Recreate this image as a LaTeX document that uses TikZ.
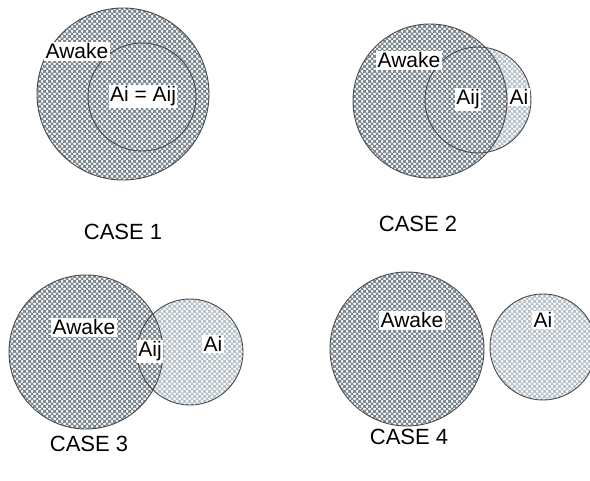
\documentclass[tikz,border=0pt]{standalone}
\usepackage{fontspec}
\setmainfont{Liberation Sans}
\usetikzlibrary{patterns.meta}

% diagonal cross-hatch used for the set fills (axis-aligned 5pt tile)
\tikzdeclarepattern{
  name=xhatch,
  type=uncolored,
  bounding box={(0,0) and (5pt,5pt)},
  tile size={(5pt,5pt)},
  code={
    \foreach \k in {-5,0,5}{
      \draw[line width=1.0pt] (-1pt,-1pt+\k pt) -- (6pt,6pt+\k pt);
      \draw[line width=1.0pt] (-1pt,6pt+\k pt) -- (6pt,-1pt+\k pt);
    }
  }
}

\definecolor{hatchdark}{HTML}{76838B}
\definecolor{hatchlight}{HTML}{B4C0C7}
\definecolor{rim}{HTML}{4A4A4A}

\tikzset{
  awakeset/.style={preaction={fill=white}, pattern=xhatch, pattern color=hatchdark},
  aiset/.style={preaction={fill=white}, pattern=xhatch, pattern color=hatchlight},
  rimline/.style={draw=rim, line width=0.9pt},
  tag/.style={fill=white, inner sep=1.5pt, anchor=base,
              font=\fontsize{21}{25}\selectfont},
  caption/.style={anchor=base, font=\fontsize{22}{26}\selectfont},
}

\begin{document}
\begin{tikzpicture}[x=1pt, y=-1pt]
\useasboundingbox (0,0) rectangle (590,481);

% ---------- case 1: Ai inside Awake ----------
\coordinate (w1) at (123,94);
\coordinate (a1) at (142,97);
\fill[awakeset] (w1) circle[radius=86];
\draw[rimline] (w1) circle[radius=86];
\draw[rimline] (a1) circle[radius=54];
\node[tag] (aw1) at (77,59) {Awake};
\node[tag] (eq1) at (143,102) {Ai = Aij};
\node[caption] (c1) at (123,240) {CASE 1};

% ---------- case 2: large overlap ----------
\coordinate (w2) at (430,101);
\coordinate (a2) at (478,100);
\fill[aiset] (a2) circle[radius=53];
\fill[awakeset] (w2) circle[radius=77];
\draw[rimline] (w2) circle[radius=77];
\draw[rimline] (a2) circle[radius=53];
\node[tag] (aw2) at (409,68) {Awake};
\node[tag] (ij2) at (468,105) {Aij};
\node[tag] (ai2) at (519,105) {Ai};
\node[caption] (c2) at (418,232) {CASE 2};

% ---------- case 3: small overlap ----------
\coordinate (w3) at (86,352);
\coordinate (a3) at (190,352);
\fill[aiset] (a3) circle[radius=53];
\fill[awakeset] (w3) circle[radius=77];
\draw[rimline] (w3) circle[radius=77];
\draw[rimline] (a3) circle[radius=53];
\node[tag] (aw3) at (84,335) {Awake};
\node[tag] (ij3) at (150,357) {Aij};
\node[tag] (ai3) at (213,352) {Ai};
\node[caption] (c3) at (89,452) {CASE 3};

% ---------- case 4: disjoint ----------
\coordinate (w4) at (407,349);
\coordinate (a4) at (543,347);
\fill[awakeset] (w4) circle[radius=77];
\fill[aiset] (a4) circle[radius=53];
\draw[rimline] (w4) circle[radius=77];
\draw[rimline] (a4) circle[radius=53];
\node[tag] (aw4) at (412,328) {Awake};
\node[tag] (ai4) at (543,328) {Ai};
\node[caption] (c4) at (409,445) {CASE 4};
\end{tikzpicture}
\end{document}
